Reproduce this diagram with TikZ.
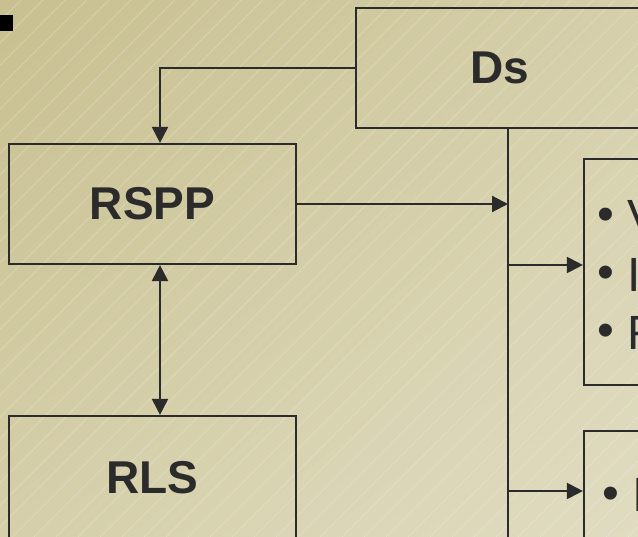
\documentclass[tikz,border=0pt]{standalone}
\usepackage{fontspec}
\setmainfont{Liberation Sans}
\usetikzlibrary{arrows.meta,shadings}

\definecolor{ink}{HTML}{2B2B2B}
\definecolor{bgTL}{HTML}{C8C090}
\definecolor{bgMid}{HTML}{D5CFAA}
\definecolor{bgBR}{HTML}{E0DCC1}

\begin{document}
\begin{tikzpicture}[x=1pt,y=-1pt,
  box/.style={draw=ink, line width=2.2pt, rectangle, inner sep=0pt},
  title/.style={font=\fontsize{46}{52}\selectfont\bfseries, text=ink},
  item/.style={font=\fontsize{48}{56}\selectfont, text=ink, anchor=base west, inner sep=0pt},
  dot/.style={font=\fontsize{48}{56}\selectfont, text=ink, anchor=base, inner sep=0pt},
  link/.style={draw=ink, line width=2.2pt},
  tip/.tip={Triangle[length=16pt,width=16pt]},
  conn/.style={link, -tip},
  biconn/.style={link, tip-tip},
  stripe/.style={draw=white, opacity=0.3, line width=0.6pt}
]
\useasboundingbox (0,0) rectangle (638,537);
\clip (0,0) rectangle (638,537);

% background: soft khaki gradient with fine diagonal hatching
\shade[upper left=bgTL, upper right=bgMid, lower left=bgMid, lower right=bgBR]
  (0,0) rectangle (638,537);
\foreach \k in {-560,-538,...,660}
  \draw[stripe] (\k,537) -- (\k+537,0);

% slide bullet
\fill[black] (0,15) rectangle (13,31);

% boxes
\node[box, title, minimum width=288pt, minimum height=120pt] (ds) at (500,68) {Ds};
\node[box, title, minimum width=287pt, minimum height=120pt] (rspp) at (152.5,204) {RSPP};
\node[box, title, minimum width=287pt, minimum height=124pt] (rls) at (152.5,478) {RLS};
\node[box, minimum width=100pt, minimum height=226pt] (list1) at (634,272) {};
\node[box, minimum width=100pt, minimum height=140pt] (list2) at (634,501) {};

% bullet items
\node[dot] (b1) at (606,231) {•};
\node[item] (i1) at (627,234) {V};
\node[dot] (b2) at (606,289) {•};
\node[item] (i2) at (627,292) {I};
\node[dot] (b3) at (606,347) {•};
\node[item] (i3) at (627,350) {R};
\node[dot] (b4) at (611,510) {•};
\node[item] (i4) at (632,512) {I};

% connectors
\coordinate (busTop) at ([xshift=8pt]ds.south);
\coordinate (busEnd) at (508,545);
\draw[link] (busTop) -- (busEnd);
\draw[conn] (ds.west) -| ([xshift=7.5pt]rspp.north);
\draw[biconn] ([xshift=7.5pt]rspp.south) -- ([xshift=7.5pt]rls.north);
\draw[conn] (rspp.east) -- (rspp.east -| busTop);
\draw[conn] ([yshift=7pt]list1.west -| busTop) -- ([yshift=7pt]list1.west);
\draw[conn] ([yshift=10pt]list2.west -| busTop) -- ([yshift=10pt]list2.west);
\end{tikzpicture}
\end{document}
